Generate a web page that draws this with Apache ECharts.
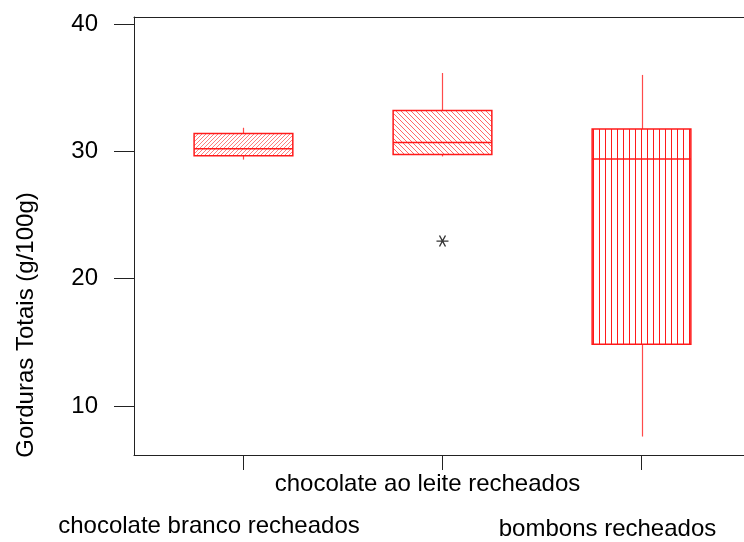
<!DOCTYPE html>
<html>
<head>
<meta charset="utf-8">
<script src="https://cdn.jsdelivr.net/npm/echarts@6/dist/echarts.min.js"></script>
<style>
  html, body { margin: 0; padding: 0; background: #fff; }
  #chart { width: 744px; height: 542px; }
</style>
</head>
<body>
<div id="chart"></div>
<script>
// Product groups and their box-plot statistics (g/100g)
const categories = ['chocolate branco recheados', 'chocolate ao leite recheados', 'bombons recheados'];
const lowWhisker  = [29.35, 29.6, 7.6];
const lowerQuart  = [29.65, 29.75, 14.85];
const medians     = [30.2, 30.7, 29.4];
const upperQuart  = [31.4, 33.2, 31.75];
const highWhisker = [31.85, 36.15, 36.0];
// Outlying observation: [group position, value]
const outliers = [[2, 22.95]];
const yTickValues = [10, 20, 30, 40];
const xTickValues = [1, 2, 3];

const FONT = '"Liberation Sans", Arial, sans-serif';

// Small repeating canvas tiles used as hatch fills
function hatch(kind, size, color) {
  const c = document.createElement('canvas');
  c.width = size; c.height = size;
  const g = c.getContext('2d');
  g.fillStyle = color;
  for (let i = 0; i < size; i++) {
    if (kind === '/') g.fillRect(i, size - 1 - i, 1, 1);
    else if (kind === '\\') g.fillRect(i, i, 1, 1);
  }
  if (kind === '|') g.fillRect(size - 1, 0, 1, size);
  return { image: c, repeat: 'repeat' };
}
const fills = [
  hatch('/', 4, 'rgba(255,40,40,0.6)'),
  hatch('\\', 5, 'rgba(255,40,40,0.7)'),
  hatch('|', 6, '#ff1a1a')
];

const boxData = categories.map((c, i) => [
  i + 1, lowWhisker[i], lowerQuart[i], medians[i], upperQuart[i], highWhisker[i]
]);

const X_MIN = 0.45, X_MAX = 3.515;

const chart = echarts.init(document.getElementById('chart'));
chart.setOption({
  animation: false,
  backgroundColor: '#fff',
  grid: { left: 134, top: 17, right: 0, bottom: 87, containLabel: false },
  xAxis: [{
    type: 'value', min: X_MIN, max: X_MAX, position: 'bottom',
    splitLine: { show: false },
    axisLine: { show: true, lineStyle: { color: '#222', width: 1 } },
    axisTick: { show: true, customValues: xTickValues, length: 15, lineStyle: { color: '#222' } },
    axisLabel: {
      customValues: xTickValues,
      hideOverlap: false,
      margin: 17,
      formatter: v => {
        const i = Math.round(v) - 1;
        return '{c' + i + '|' + categories[i] + '}';
      },
      rich: {
        c0: { fontSize: 24, fontFamily: FONT, color: '#000', padding: [42, 69, 0, 0] },
        c1: { fontSize: 24, fontFamily: FONT, color: '#000', padding: [0, 30, 0, 0] },
        c2: { fontSize: 24, fontFamily: FONT, color: '#000', padding: [45, 68, 0, 0] }
      }
    }
  }, {
    type: 'value', min: X_MIN, max: X_MAX, position: 'top',
    splitLine: { show: false },
    axisLine: { show: true, lineStyle: { color: '#222', width: 1 } },
    axisTick: { show: false },
    axisLabel: { show: false }
  }],
  yAxis: {
    type: 'value', min: 6.15, max: 40.55,
    splitLine: { show: false },
    axisLine: { show: true, lineStyle: { color: '#222', width: 1 } },
    axisTick: { show: true, customValues: yTickValues, length: 20, lineStyle: { color: '#222' } },
    axisLabel: { customValues: yTickValues, margin: 36, fontSize: 24, fontFamily: FONT, color: '#000' },
    name: 'Gorduras Totais (g/100g)',
    nameLocation: 'middle',
    nameGap: 96,
    nameRotate: 90,
    nameTextStyle: { fontSize: 24, fontFamily: FONT, color: '#000', padding: [0, 178, 0, 0] }
  },
  series: [{
    type: 'custom',
    xAxisIndex: 0,
    data: boxData,
    renderItem: (params, api) => {
      const x = api.value(0);
      const half = 0.248;
      const pLow = api.coord([x, api.value(1)]);
      const pQ1 = api.coord([x - half, api.value(2)]);
      const pMed = api.coord([x, api.value(3)]);
      const pQ3 = api.coord([x + half, api.value(4)]);
      const pHigh = api.coord([x, api.value(5)]);
      const cx = Math.round(pLow[0]) + 0.5;
      const left = pQ1[0], right = pQ3[0], top = pQ3[1], bottom = pQ1[1];
      const whisker = { stroke: '#ff4a4a', lineWidth: 1.2 };
      return {
        type: 'group',
        children: [
          { type: 'line', shape: { x1: cx, y1: pHigh[1], x2: cx, y2: top }, style: whisker },
          { type: 'line', shape: { x1: cx, y1: bottom, x2: cx, y2: pLow[1] }, style: whisker },
          { type: 'rect', shape: { x: left, y: top, width: right - left, height: bottom - top },
            style: { fill: fills[params.dataIndex], stroke: '#ff1a1a', lineWidth: 1.5 } },
          { type: 'line', shape: { x1: left, y1: pMed[1], x2: right, y2: pMed[1] },
            style: { stroke: '#ff1a1a', lineWidth: 1.5 } }
        ]
      };
    }
  }, {
    type: 'scatter',
    xAxisIndex: 0,
    data: outliers,
    symbol: 'path://M0 5L10 5M2.5 0.67L7.5 9.33M7.5 0.67L2.5 9.33',
    symbolSize: [12, 11],
    itemStyle: { color: 'transparent', borderColor: '#000', borderWidth: 1.3 }
  }]
});
</script>
</body>
</html>
